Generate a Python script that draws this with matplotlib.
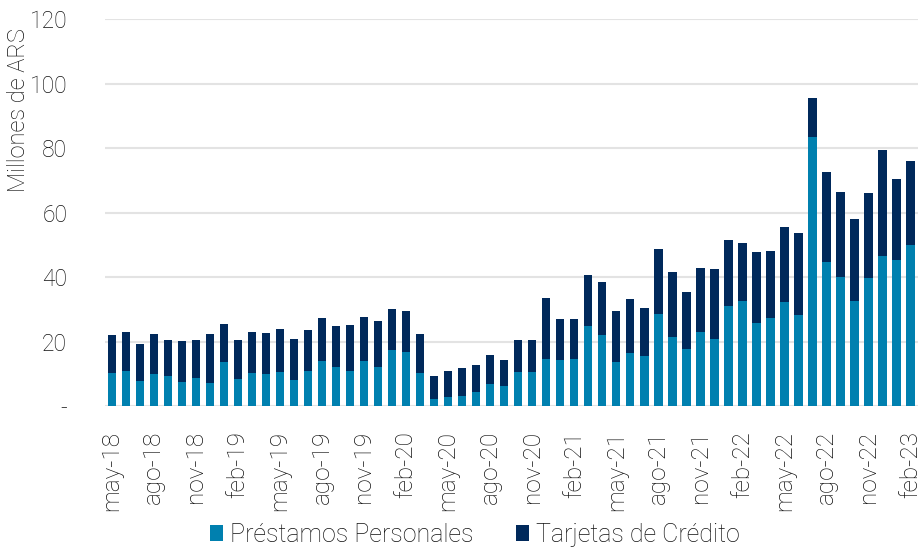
import matplotlib
matplotlib.use("Agg")
import matplotlib.pyplot as plt
import numpy as np
from matplotlib.patches import Patch

plt.rcParams['font.family'] = ['Roboto', 'DejaVu Sans']
plt.rcParams['font.weight'] = 'light'
plt.rcParams['axes.labelweight'] = 'light'

# Months: may-18 .. feb-23 (58 monthly bars)
months_es = ['ene', 'feb', 'mar', 'abr', 'may', 'jun', 'jul', 'ago', 'sep', 'oct', 'nov', 'dic']
categories = []
y, m = 2018, 4
for _ in range(58):
    categories.append(f"{months_es[m]}-{str(y)[2:]}")
    m += 1
    if m == 12:
        m = 0
        y += 1

prestamos_personales = [10.1, 10.8, 7.7, 9.9, 9.4, 7.3, 8.6, 7.0, 13.5, 8.3,
                        10.1, 9.8, 10.4, 8.0, 10.9, 14.1, 12.1, 10.9, 14.1, 12.1,
                        17.4, 16.7, 10.2, 2.2, 2.8, 3.2, 4.3, 6.7, 6.2, 10.4,
                        10.5, 14.7, 14.3, 14.5, 24.7, 22.0, 13.5, 16.4, 15.5, 28.6,
                        21.4, 17.7, 22.9, 20.8, 31.0, 32.6, 25.7, 27.2, 32.2, 28.1,
                        83.5, 44.8, 40.0, 32.5, 39.8, 46.5, 45.3, 50.0]

tarjetas_credito = [11.8, 12.1, 11.4, 12.4, 11.0, 12.8, 11.8, 15.3, 11.8, 12.3,
                    12.8, 12.7, 13.4, 12.7, 12.6, 13.2, 12.6, 14.3, 13.5, 14.3,
                    12.8, 12.8, 12.2, 7.0, 8.1, 8.7, 8.3, 9.0, 8.1, 10.1,
                    9.9, 18.7, 12.6, 12.5, 15.9, 16.4, 16.0, 16.7, 14.8, 20.0,
                    20.2, 17.6, 19.9, 21.6, 20.5, 18.0, 22.1, 20.8, 23.2, 25.6,
                    11.9, 27.7, 26.4, 25.4, 26.2, 33.0, 25.1, 26.1]

y_ticks = [0, 20, 40, 60, 80, 100, 120]
y_tick_labels = ['-', '20', '40', '60', '80', '100', '120']

c_pp = '#0080AF'
c_tc = '#00295B'
txt = '#111111'

fig = plt.figure(figsize=(9.21, 5.48), dpi=100)
ax = fig.add_axes([0.1137, 0.2591, 0.8826, 0.7062])

x = np.arange(len(categories))
ax.bar(x, prestamos_personales, width=0.6, color=c_pp, zorder=3)
ax.bar(x, tarjetas_credito, width=0.6, bottom=prestamos_personales, color=c_tc, zorder=3)

ax.set_xlim(-0.5, len(categories) - 0.5)
ax.set_ylim(0, 120)
ax.set_yticks(y_ticks)
ax.set_yticklabels(y_tick_labels)
ax.set_xticks(x[::3])
ax.set_xticklabels(categories[::3], rotation=90, va='top', ha='center')

ax.tick_params(axis='y', length=0, pad=27, labelsize=16.5, labelcolor=txt)
ax.tick_params(axis='x', length=0, pad=18, labelsize=17.5, labelcolor=txt)

for s in ax.spines.values():
    s.set_visible(False)
ax.grid(axis='y', color='#e3e3e3', linewidth=1.5, zorder=0)
ax.set_axisbelow(True)

ax.set_ylabel('Millones de ARS', fontsize=17, color=txt, va='center', ha='center')
ax.yaxis.set_label_coords(-0.106, 0.765)

handles = [Patch(facecolor=c_pp, label='Préstamos Personales'),
           Patch(facecolor=c_tc, label='Tarjetas de Crédito')]
fig.legend(handles=handles, loc='center', bbox_to_anchor=(0.516, 0.024),
           ncol=2, frameon=False, fontsize=18, labelcolor=txt,
           handlelength=0.5, handleheight=0.6, handletextpad=0.3,
           columnspacing=1.7, borderaxespad=0, borderpad=0)

fig.savefig('out.png', dpi=100)
